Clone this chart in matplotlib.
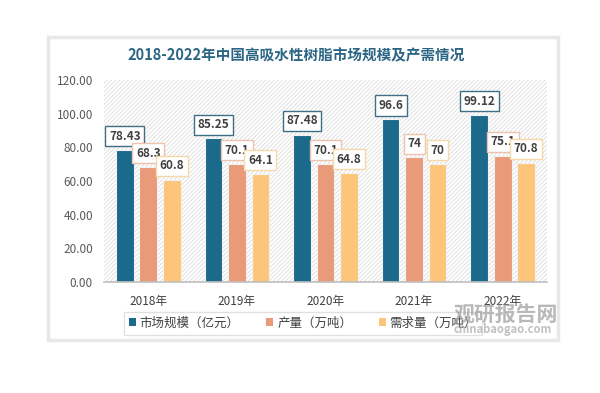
import numpy as np
import matplotlib
matplotlib.use('Agg')
import matplotlib.pyplot as plt
from matplotlib.patches import Rectangle, Patch

plt.rcParams['font.family'] = ['Noto Sans CJK SC', 'DejaVu Sans']
plt.rcParams['hatch.linewidth'] = 0.5

# --- data ---
years = ["2018年", "2019年", "2020年", "2021年", "2022年"]
market = [78.43, 85.25, 87.48, 96.6, 99.12]       # 市场规模（亿元）
production = [68.3, 70.1, 70.1, 74, 75.1]         # 产量（万吨）
demand = [60.8, 64.1, 64.8, 70, 70.8]             # 需求量（万吨）
series_names = ["市场规模（亿元）", "产量（万吨）", "需求量（万吨）"]
y_ticks = [0, 20, 40, 60, 80, 100, 120]

colors = ["#1b6a8c", "#e99a79", "#fdc57a"]
label_edges = ["#3f6f84", "#efc2ad", "#f5d9ab"]

fig = plt.figure(figsize=(6, 3.93), dpi=100)
fig.patch.set_facecolor("white")

# card background with soft border
card = Rectangle((48 / 600, 1 - 340 / 393), 510 / 600, 303 / 393,
                 transform=fig.transFigure, facecolor="white",
                 edgecolor="#e8e8e8", lw=2.5, zorder=-5)
fig.patches.append(card)

ax = fig.add_axes([104 / 600, 1 - 282 / 393, 443 / 600, 202 / 393])
ax.set_facecolor("none")
ax.add_patch(Rectangle((0, 0), 1, 1, transform=ax.transAxes,
                       facecolor="white", edgecolor="#d4d4d4", lw=0,
                       hatch="////////", zorder=0))

x = np.arange(len(years))
width = 0.2
step = 0.265
all_series = [market, production, demand]
for i, vals in enumerate(all_series):
    pos = x + (i - 1) * step
    ax.bar(pos, vals, width, color=colors[i], edgecolor="#f2f2f2",
           lw=0.8, zorder=2, label=series_names[i])
    for xp, v in zip(pos, vals):
        ax.annotate(f"{v:g}", (xp, v), xytext=(0, 10), textcoords="offset points",
                    ha="center", va="center", fontsize=8.5, color="#404040",
                    fontweight="bold", zorder=4,
                    bbox=dict(boxstyle="square,pad=0.3", facecolor="white",
                              edgecolor=label_edges[i], lw=1))

ax.set_xlim(-0.5, len(years) - 0.5)
ax.set_ylim(0, 120)
ax.set_yticks(y_ticks)
ax.set_yticklabels([f"{t:.2f}" for t in y_ticks], fontsize=8.5, color="#595959")
ax.set_xticks(x)
ax.set_xticklabels(years, fontsize=8.5, color="#404040")
ax.tick_params(length=0, pad=8)
ax.tick_params(axis="x", pad=9)
for s in ["top", "right", "left"]:
    ax.spines[s].set_visible(False)
ax.spines["bottom"].set_color("#bfbfbf")
ax.spines["bottom"].set_linewidth(1.2)

fig.text(296 / 600, 1 - 55 / 393, "2018-2022年中国高吸水性树脂市场规模及产需情况",
         ha="center", va="center", fontsize=10.5, fontweight="bold", color="#2b6584")

handles = [Patch(facecolor=c, edgecolor="none") for c in colors]
leg = fig.legend(handles, series_names, loc="center", ncol=3,
                 bbox_to_anchor=(303 / 600, 1 - 323 / 393), fontsize=9,
                 frameon=True, fancybox=False, edgecolor="#d9d9d9",
                 handlelength=0.55, handleheight=0.55, handletextpad=0.3,
                 columnspacing=2.15, borderpad=0.4)
leg.set_zorder(3)
for t in leg.get_texts():
    t.set_color("#404040")

# watermark (sits on top of the legend, as in the source image)
fig.text(506 / 600, 1 - 314 / 393, "观研报告网", ha="center", va="center",
         fontsize=15, fontweight="bold", color="#9a9a9a", alpha=0.7, zorder=10)
fig.text(503 / 600, 1 - 330 / 393, "chinabaogao.com", ha="center", va="center",
         fontsize=8, fontweight="bold", color="#a8a8a8", alpha=0.7, zorder=10)

fig.savefig("out.png", dpi=100, facecolor="white")
